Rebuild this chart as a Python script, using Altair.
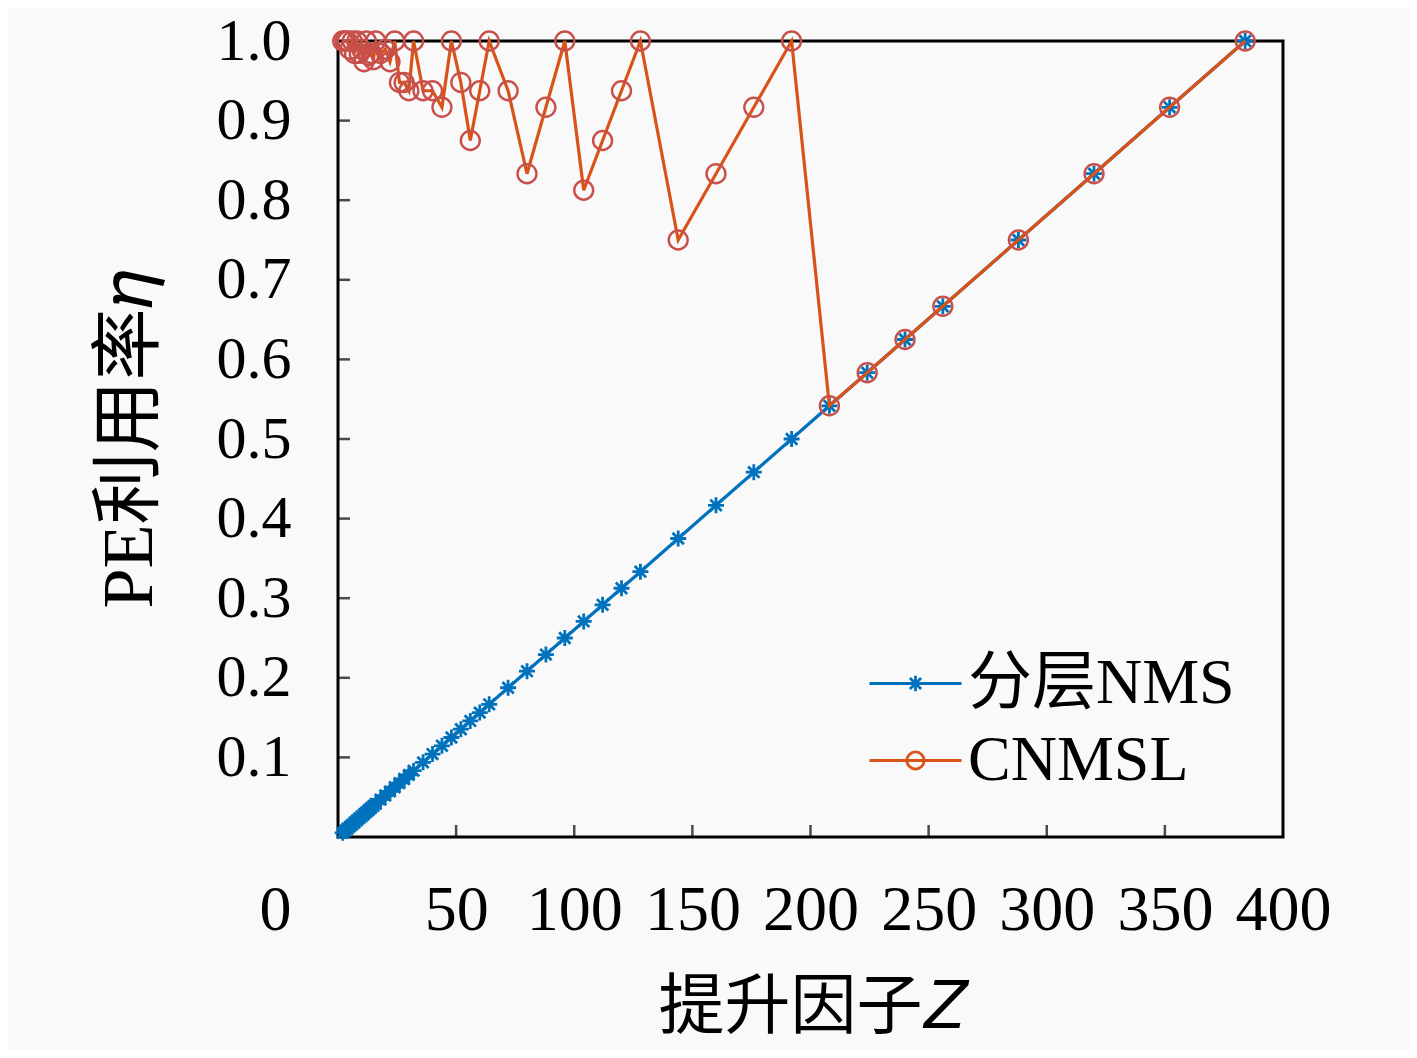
import altair as alt
import pandas as pd

# ---------------- data ----------------
Z = [2, 3, 4, 5, 6, 7, 8, 9, 10, 11, 12, 13, 14, 15, 16, 18, 20, 22, 24, 26,
     28, 30, 32, 36, 40, 44, 48, 52, 56, 60, 64, 72, 80, 88, 96, 104, 112, 120,
     128, 144, 160, 176, 192, 208, 224, 240, 256, 288, 320, 352, 384]

eta_nms = [0.0052, 0.0078, 0.0104, 0.0130, 0.0156, 0.0182, 0.0208, 0.0234,
           0.0260, 0.0286, 0.0313, 0.0339, 0.0365, 0.0391, 0.0417, 0.0469,
           0.0521, 0.0573, 0.0625, 0.0677, 0.0729, 0.0781, 0.0833, 0.0938,
           0.1042, 0.1146, 0.1250, 0.1354, 0.1458, 0.1563, 0.1667, 0.1875,
           0.2083, 0.2292, 0.2500, 0.2708, 0.2917, 0.3125, 0.3333, 0.3750,
           0.4167, 0.4583, 0.5000, 0.5417, 0.5833, 0.6250, 0.6667, 0.7500,
           0.8333, 0.9167, 1.0000]

eta_cnmsl = [1.0, 1.0, 1.0, 0.9896, 1.0, 0.9844, 1.0, 0.9844, 0.9896, 0.9740,
             1.0, 0.9818, 0.9844, 0.9766, 1.0, 0.9844, 0.9896, 0.9740, 1.0,
             0.9479, 0.9479, 0.9375, 1.0, 0.9375, 0.9375, 0.9167, 1.0, 0.9479,
             0.8750, 0.9375, 1.0, 0.9375, 0.8333, 0.9167, 1.0, 0.8125, 0.8750,
             0.9375, 1.0, 0.7500, 0.8333, 0.9167, 1.0, 0.5417, 0.5833, 0.6250,
             0.6667, 0.7500, 0.8333, 0.9167, 1.0000]

series_names = ["分层NMS", "CNMSL"]
x_tick_values = [0, 50, 100, 150, 200, 250, 300, 350, 400]
y_tick_values = [0.1, 0.2, 0.3, 0.4, 0.5, 0.6, 0.7, 0.8, 0.9, 1.0]
x_inner_ticks = [50, 100, 150, 200, 250, 300, 350]
y_inner_ticks = [0.1, 0.2, 0.3, 0.4, 0.5, 0.6, 0.7, 0.8, 0.9]

# ---------------- styles ----------------
FONT = "Liberation Serif, Noto Sans CJK SC"
BLUE = "#0072BD"
ORANGE = "#D95319"
CIRC = "#C8504A"
BG = "#f9f9f9"

STAR = "M-1,0L1,0M0,-1L0,1M-0.71,-0.71L0.71,0.71M-0.71,0.71L0.71,-0.71"
LEG_STAR = ("M-1.07,0L1.07,0M-0.18,0L0.18,0M0,-0.18L0,0.18"
            "M-0.13,-0.13L0.13,0.13M-0.13,0.13L0.13,-0.13")
LEG_CIRC = ("M-1.07,0L1.07,0M0.2,0A0.2,0.2 0 1,1 -0.2,0"
            "A0.2,0.2 0 1,1 0.2,0")

df_nms = pd.DataFrame({"Z": Z, "eta": eta_nms, "series": series_names[0]})
df_cn = pd.DataFrame({"Z": Z, "eta": eta_cnmsl, "series": series_names[1]})
df_all = pd.concat([df_nms, df_cn], ignore_index=True)
df_xt = pd.DataFrame({"Z": x_inner_ticks})
df_yt = pd.DataFrame({"eta": y_inner_ticks})

xs = alt.Scale(domain=[0, 400], nice=False, zero=False)
ys = alt.Scale(domain=[0, 1], nice=False, zero=False)

X_AX = alt.Axis(values=x_tick_values, format="d", grid=False, domain=False,
                ticks=False, labelFont=FONT, labelFontSize=64,
                labelColor="black", labelPadding=41, labelFlush=False,
                labelOverlap=False,
                labelOffset={"condition": {"test": "datum.value == 0",
                                           "value": -63}, "value": 0},
                title="提升因子𝑍", titleFont=FONT, titleFontSize=66,
                titleFontWeight="normal", titleColor="black", titlePadding=33)
Y_AX = alt.Axis(values=y_tick_values, format=".1f", grid=False, domain=False,
                ticks=False, labelFont=FONT, labelFontSize=60,
                labelColor="black", labelPadding=47, labelFlush=False,
                labelOverlap=False,
                title="PE利用率𝜂", titleFont=FONT, titleFontSize=72,
                titleFontWeight="normal", titleColor="black", titlePadding=50)

X = alt.X("Z:Q", scale=xs, axis=X_AX)
Y = alt.Y("eta:Q", scale=ys, axis=Y_AX)

LEG = dict(title=None, orient="none", legendX=533, legendY=598,
           symbolSize=7396, symbolStrokeWidth=2.8, symbolFillColor="transparent",
           labelFont=FONT, labelFontSize=64, labelColor="black", labelLimit=0,
           labelOffset=8, rowPadding=0, padding=0, symbolOffset=0)

legend_layer = alt.Chart(df_all).mark_point(opacity=0, filled=False).encode(
    x=X, y=Y,
    color=alt.Color("series:N", sort=series_names,
                    scale=alt.Scale(domain=series_names, range=[BLUE, ORANGE]),
                    legend=alt.Legend(**LEG)),
    shape=alt.Shape("series:N", sort=series_names,
                    scale=alt.Scale(domain=series_names, range=[LEG_STAR, LEG_CIRC]),
                    legend=alt.Legend(**LEG)),
)

nms_line = alt.Chart(df_nms).mark_line(color=BLUE, strokeWidth=3.2).encode(x=X, y=Y)
nms_pts = alt.Chart(df_nms).mark_point(shape=STAR, size=256, filled=False,
                                       color=BLUE, strokeWidth=2.8,
                                       opacity=1).encode(x=X, y=Y)
cn_line = alt.Chart(df_cn).mark_line(color=ORANGE, strokeWidth=3.2).encode(x=X, y=Y)
cn_pts = alt.Chart(df_cn).mark_point(shape="circle", size=360, filled=False,
                                     color=CIRC, strokeWidth=2.4,
                                     opacity=1).encode(x=X, y=Y)

xt_layer = alt.Chart(df_xt).mark_tick(color="black", thickness=2.5, size=24,
                                      clip=True).encode(x=X, y=alt.value(796))
yt_layer = alt.Chart(df_yt).mark_tick(color="black", thickness=2.5, size=24,
                                      clip=True).encode(y=Y, x=alt.value(0))

chart = alt.layer(
    legend_layer, xt_layer, yt_layer, nms_line, nms_pts, cn_line, cn_pts
).properties(
    width=945, height=796,
    autosize=alt.AutoSizeParams(type="none"),
    padding={"left": 330, "top": 33, "right": 126, "bottom": 213},
    background=BG,
).configure_view(
    stroke="black", strokeWidth=3, fill=BG
)

chart.save("out.html", embed_options={"renderer": "svg", "actions": False})
